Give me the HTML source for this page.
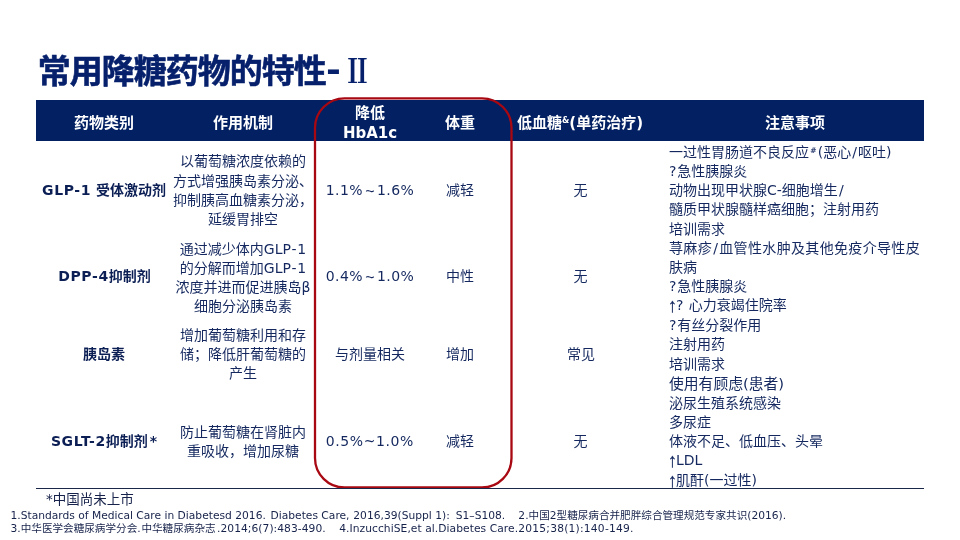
<!DOCTYPE html>
<html lang="zh-CN">
<head>
<meta charset="utf-8">
<title>常用降糖药物的特性-Ⅱ</title>
<style>
html,body{margin:0;padding:0;}
body{width:960px;height:540px;position:relative;overflow:hidden;background:#fff;
  font-family:"DejaVu Sans","Liberation Sans","Noto Sans CJK SC",sans-serif;color:#14306f;}
.abs{position:absolute;white-space:nowrap;}
#title{left:37.7px;top:50px;font-size:33px;letter-spacing:-0.98px;line-height:44px;font-weight:bold;color:#06206c;-webkit-text-stroke:0.55px #06206c;}
#thy{left:326.3px;top:48px;font-size:32px;line-height:44px;font-weight:bold;color:#06206c;transform:scaleX(1.12);transform-origin:0 50%;}
#tii{left:343.7px;top:49.5px;font-size:32px;line-height:44px;font-weight:bold;color:#06206c;font-family:"Liberation Serif","Noto Serif CJK SC",serif;transform:scale(0.84,1.04);transform-origin:0 50%;}
#hdr{left:36px;top:100px;width:888px;height:41px;background:#022062;}
.h{color:#fff;font-weight:bold;font-size:15px;line-height:20px;text-align:center;transform:translateX(-50%);}
.c{font-size:14px;line-height:19.2px;text-align:center;transform:translateX(-50%);color:#14285f;}
.b{font-weight:bold;color:#0c1f55;}
.n{font-size:14px;line-height:19.2px;left:669px;color:#14285f;}
#line{left:36px;top:488px;width:888px;height:1px;background:#1b2748;}
#fn{left:46px;top:490px;font-size:13.5px;line-height:18px;color:#16224a;}
#ref{left:10.5px;top:508.5px;font-size:10.7px;line-height:13.6px;color:#16224a;}
.z{font-size:10.6px;}
#r2{margin-left:1.3px;}#r3{margin-left:0.4px;}#r4{margin-left:2.6px;}#r5{margin-left:6.3px;}
#r6 .z+.z,#r6 .z~.z{margin-left:0.8px;}#r7{margin-left:1.4px;letter-spacing:0.05px;}#r8{margin-left:6.6px;letter-spacing:0.06px;}#r9{letter-spacing:0.22px;}
sup{font-size:60%;vertical-align:top;line-height:1;position:relative;top:2px;}
.n sup{font-size:7.5px;top:4.6px;margin:0 1.2px 0 1.2px;-webkit-text-stroke:0.15px;}
.h sup{font-size:8.4px;top:3px;}
.t{font-family:"Liberation Sans",sans-serif;font-size:16px;line-height:1;margin:0 2.4px;letter-spacing:0;position:relative;top:1.5px;}
.ar{font-family:"Liberation Sans",sans-serif;display:inline-block;line-height:1;transform:translateY(-0.5px) scale(1.25,1.4);-webkit-text-stroke:0.25px;}
.sl{margin:0 1.1px;}
.js{letter-spacing:0.34px;}
.L{letter-spacing:0.6px;}
.m{letter-spacing:0.4px;}
.hy{margin:0 0.65px;}
.q{margin-right:0.9px;}
.big{font-size:14.8px;}
.st{margin-left:2px;}
</style>
</head>
<body>
<div id="title" class="abs">常用降糖药物的特性</div><div id="thy" class="abs">-</div><div id="tii" class="abs">Ⅱ</div>
<div id="hdr" class="abs"></div>
<div class="abs h" style="left:104px;top:112.5px;">药物类别</div>
<div class="abs h" style="left:243px;top:112.5px;">作用机制</div>
<div class="abs h" style="left:370px;top:103px;">降低<br>HbA1c</div>
<div class="abs h" style="left:460px;top:112.5px;">体重</div>
<div class="abs h" style="left:580px;top:112.5px;">低血糖<sup>&amp;</sup>(单药治疗)</div>
<div class="abs h" style="left:795px;top:112.5px;">注意事项</div>

<div class="abs c b" style="left:104px;top:181.2px;"><span class="L">GLP-1</span> 受体激动剂</div>
<div class="abs c" style="left:243px;top:152.2px;line-height:19.35px;">以葡萄糖浓度依赖的<br>方式增强胰岛素分泌、<br>抑制胰高血糖素分泌，<br>延缓胃排空</div>
<div class="abs c m" style="left:370px;top:181px;">1.1%<span class="t">~</span>1.6%</div>
<div class="abs c" style="left:460px;top:181px;">减轻</div>
<div class="abs c" style="left:580.5px;top:181px;">无</div>
<div class="abs n" style="top:142.7px;">一过性胃肠道不良反应<sup>#</sup>(恶心<span class="sl">/</span>呕吐)<br><span class="q">?</span>急性胰腺炎<br>动物出现甲状腺C-细胞增生<span class="sl">/</span><br>髓质甲状腺髓样癌细胞；注射用药<br>培训需求</div>

<div class="abs c b" style="left:104.5px;top:267px;"><span class="L">DPP-4</span>抑制剂</div>
<div class="abs c" style="left:243px;top:239.5px;line-height:19.27px;">通过减少体内GLP<span class="hy">-</span>1<br>的分解而增加GLP<span class="hy">-</span>1<br>浓度并进而促进胰岛β<br>细胞分泌胰岛素</div>
<div class="abs c m" style="left:370px;top:267.2px;">0.4%<span class="t">~</span>1.0%</div>
<div class="abs c" style="left:460px;top:267.2px;">中性</div>
<div class="abs c" style="left:580.5px;top:267.2px;">无</div>
<div class="abs n" style="top:239.3px;line-height:19.05px;"><span class="js">荨麻疹<span class="sl">/</span>血管性水肿及其他免疫介导性皮</span><br>肤病<br><span class="q">?</span>急性胰腺炎<br><span class="ar">↑</span><span class="q">?</span> 心力衰竭住院率</div>

<div class="abs c b" style="left:104px;top:345px;">胰岛素</div>
<div class="abs c" style="left:243px;top:326px;line-height:19.1px;">增加葡萄糖利用和存<br>储；降低肝葡萄糖的<br>产生</div>
<div class="abs c" style="left:370px;top:345.3px;">与剂量相关</div>
<div class="abs c" style="left:460px;top:345.3px;">增加</div>
<div class="abs c" style="left:581px;top:345.3px;">常见</div>
<div class="abs n" style="top:316.2px;line-height:19.25px;"><span class="q">?</span>有丝分裂作用<br>注射用药<br>培训需求<br><span class="big">使用有顾虑(患者)</span></div>

<div class="abs c b" style="left:104px;top:431.8px;"><span class="L">SGLT-2</span>抑制剂<span class="st">*</span></div>
<div class="abs c" style="left:243px;top:422.5px;line-height:19.8px;">防止葡萄糖在肾脏内<br>重吸收，增加尿糖</div>
<div class="abs c m" style="left:369.8px;top:432.3px;letter-spacing:0.6px;">0.5%~1.0%</div>
<div class="abs c" style="left:460px;top:432.3px;">减轻</div>
<div class="abs c" style="left:580.5px;top:432.3px;">无</div>
<div class="abs n" style="top:394px;line-height:19.15px;">泌尿生殖系统感染<br>多尿症<br>体液不足、低血压、头晕<br><span class="ar">↑</span>LDL<br><span class="ar">↑</span>肌酐(一过性)</div>

<svg class="abs" style="left:0;top:0;" width="960" height="540"><rect x="315" y="98.3" width="196.5" height="389.2" rx="29.5" ry="29.5" fill="none" stroke="#a80812" stroke-width="2.3"/></svg>
<div id="line" class="abs"></div>
<div id="fn" class="abs">*中国尚未上市</div>
<div id="ref" class="abs"><span id="r1">1.Standards of Medical Care in Diabetesd 2016.</span> <span id="r2">Diabetes Care,</span> <span id="r3">2016,39(Suppl 1):</span> <span id="r4">S1–S108.</span>&nbsp; <span id="r5">2.<span class="z">中国</span>2<span class="z">型糖尿病合并肥胖综合管理规范专家共识</span>(2016).</span><br><span id="r6">3.<span class="z">中华医学会糖尿病学分会</span>.<span class="z">中华糖尿病杂志</span></span><span id="r7">.2014;6(7):483-490.</span>&nbsp; <span id="r8">4.InzucchiSE,et al.Diabetes Care</span><span id="r9">.2015;38(1):140-149.</span></div>
</body>
</html>
